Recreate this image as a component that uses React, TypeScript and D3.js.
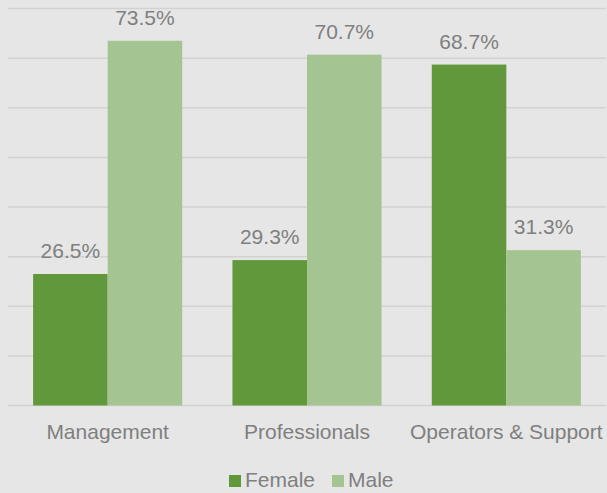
import React from "react";
import * as d3 from "d3";

const categories = ["Management", "Professionals", "Operators & Support"];
const series = ["Female", "Male"];
const femaleValues = [26.5, 29.3, 68.7];
const maleValues = [73.5, 70.7, 31.3];
const yTicks = [0, 10, 20, 30, 40, 50, 60, 70, 80];

const W = 607;
const H = 493;
const colors = ["#62983c", "#a4c591"];
const textColor = "#7f7f7f";
const font = "'Liberation Sans', Arial, sans-serif";

export default function App() {
  const left = 8, right = 606, top = 8.5, bottom = 405.5;
  const x = d3.scaleBand<string>().domain(categories).range([left, right]).paddingInner(0).paddingOuter(0);
  const y = d3.scaleLinear().domain([0, 80]).range([bottom, top]);
  const bw = x.bandwidth() * 0.374;
  const values = [femaleValues, maleValues];

  return (
    <svg width={W} height={H} style={{ position: "absolute", left: 0, top: 0, display: "block" }}>
      <rect x={0} y={0} width={W} height={H} fill="#e6e6e6" />
      {yTicks.map((t) => (
        <line key={t} x1={left} x2={right} y1={y(t)} y2={y(t)} stroke="#d2d2d2" strokeWidth={1.5} />
      ))}
      {categories.map((c, i) => {
        const cx = (x(c) as number) + x.bandwidth() / 2;
        return (
          <g key={c}>
            {series.map((s, j) => {
              const v = values[j][i];
              const bx = cx - bw + j * bw;
              return (
                <g key={s}>
                  <rect x={bx} y={y(v)} width={bw} height={y(0) - y(v)} fill={colors[j]} />
                  <text x={bx + bw / 2} y={y(v) - 16} textAnchor="middle" fontFamily={font} fontSize={21} fill={textColor}>
                    {v.toFixed(1)}%
                  </text>
                </g>
              );
            })}
            <text x={cx} y={439} textAnchor="middle" fontFamily={font} fontSize={21} fill={textColor}>
              {c}
            </text>
          </g>
        );
      })}
      {series.map((s, j) => {
        const lx = j === 0 ? 229 : 332;
        return (
          <g key={s}>
            <rect x={lx} y={475} width={12} height={12} fill={colors[j]} />
            <text x={lx + 16} y={487} fontFamily={font} fontSize={21} fill={textColor}>
              {s}
            </text>
          </g>
        );
      })}
    </svg>
  );
}
